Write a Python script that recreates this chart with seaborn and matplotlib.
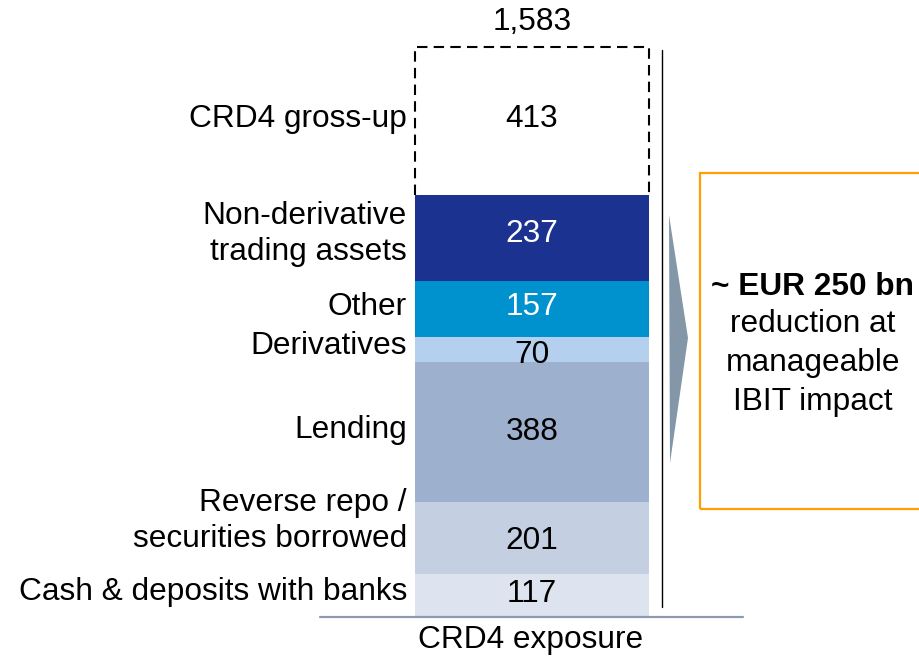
import numpy as np
import pandas as pd
import matplotlib.pyplot as plt
from matplotlib.patches import Rectangle, Polygon
from matplotlib.lines import Line2D
import seaborn as sns

# segments, bottom to top
categories = ["Cash & deposits with banks", "Reverse repo /\nsecurities borrowed",
              "Lending", "Derivatives", "Other", "Non-derivative\ntrading assets",
              "CRD4 gross-up"]
values = [117, 201, 388, 70, 157, 237, 413]
total_label = "1,583"
bar_name = "CRD4 exposure"

seg_colors = ["#DDE4EF", "#C4CFE2", "#9DB0CE", "#B4D0EE", "#0091CF", "#1B3291", "white"]
value_colors = ["black", "black", "black", "black", "white", "white", "black"]
# small vertical nudges (pixels, + = down) for the texts
label_nudge = [-3, -17, -2, -4, -2, -4, -2]
value_nudge = [-1, 3, 0, 5, -2, -4, -2]

sns.set_theme(style="white")
plt.rcParams["font.family"] = ["Liberation Sans", "DejaVu Sans"]
plt.rcParams["text.color"] = "black"
FS = 22.8

W, H = 920, 658
fig = plt.figure(figsize=(W / 100, H / 100), dpi=100)
bar_left, bar_right, bar_bottom, bar_top = 415, 649, 616, 47
ax = fig.add_axes([bar_left / W, 1 - bar_bottom / H,
                   (bar_right - bar_left) / W, (bar_bottom - bar_top) / H])

tops = np.cumsum(values)
bottoms = tops - np.array(values)
total = tops[-1]

# overlay cumulative bars, largest first
for i in range(len(values) - 1, -1, -1):
    df = pd.DataFrame({"bar": [bar_name], "val": [tops[i]]})
    sns.barplot(data=df, x="bar", y="val", color=seg_colors[i], saturation=1,
                width=1.0, ax=ax, edgecolor="none", linewidth=0)

# turn overlays into true segments
patches = list(ax.patches)[::-1]
for p, b, v in zip(patches, bottoms, values):
    p.set_y(b)
    p.set_height(v)

# dashed outline (three sides) for the gross-up part
ax.plot([-0.5, -0.5, 0.5, 0.5], [bottoms[-1], total, total, bottoms[-1]],
        color="black", lw=1.5, linestyle=(0, (5, 3)), clip_on=False,
        solid_joinstyle="miter")

ax.set_xlim(-0.5, 0.5)
ax.set_ylim(0, total)
ax.axis("off")

px_unit = total / (bar_bottom - bar_top)  # data units per pixel

for i, (cat, v) in enumerate(zip(categories, values)):
    mid = bottoms[i] + v / 2
    ax.text(-0.5 - 8 / (bar_right - bar_left), mid - label_nudge[i] * px_unit, cat,
            ha="right", va="center", fontsize=FS, linespacing=1.25, clip_on=False)
    t = ax.text(0, mid - value_nudge[i] * px_unit, str(v), ha="center", va="center",
                fontsize=FS, color=value_colors[i])
    if cat == "Derivatives":
        t.set_clip_path(patches[i])

ax.text(0, total + 25 * px_unit, total_label, ha="center", va="center",
        fontsize=FS, clip_on=False)


def fx(x):
    return x / W


def fy(y):
    return 1 - y / H


# baseline and category label
fig.add_artist(Line2D([fx(320), fx(743)], [fy(617), fy(617)], color="#8C9BB0", lw=1.6))
fig.text(fx(531), fy(640), bar_name, ha="center", va="center", fontsize=FS)

# divider line
fig.add_artist(Line2D([fx(662), fx(662)], [fy(50), fy(607)], color="black", lw=1.0))

# arrow
fig.add_artist(Polygon([[fx(669), fy(215)], [fx(688), fy(338)], [fx(670), fy(463)]],
                       closed=True, facecolor="#8497A9", edgecolor="none",
                       transform=fig.transFigure))

# orange call-out box
fig.add_artist(Rectangle((fx(700), fy(509)), fx(925) - fx(700), fy(173) - fy(509),
                         facecolor="none", edgecolor="#FFA000", lw=1.6,
                         transform=fig.transFigure))
fig.text(fx(813), fy(287), "~ EUR 250 bn", ha="center", va="center",
         fontsize=FS, fontweight="bold")
fig.text(fx(813), fy(363), "reduction at\nmanageable\nIBIT impact", ha="center",
         va="center", fontsize=FS, linespacing=1.37)

fig.savefig("out.png", dpi=100)
